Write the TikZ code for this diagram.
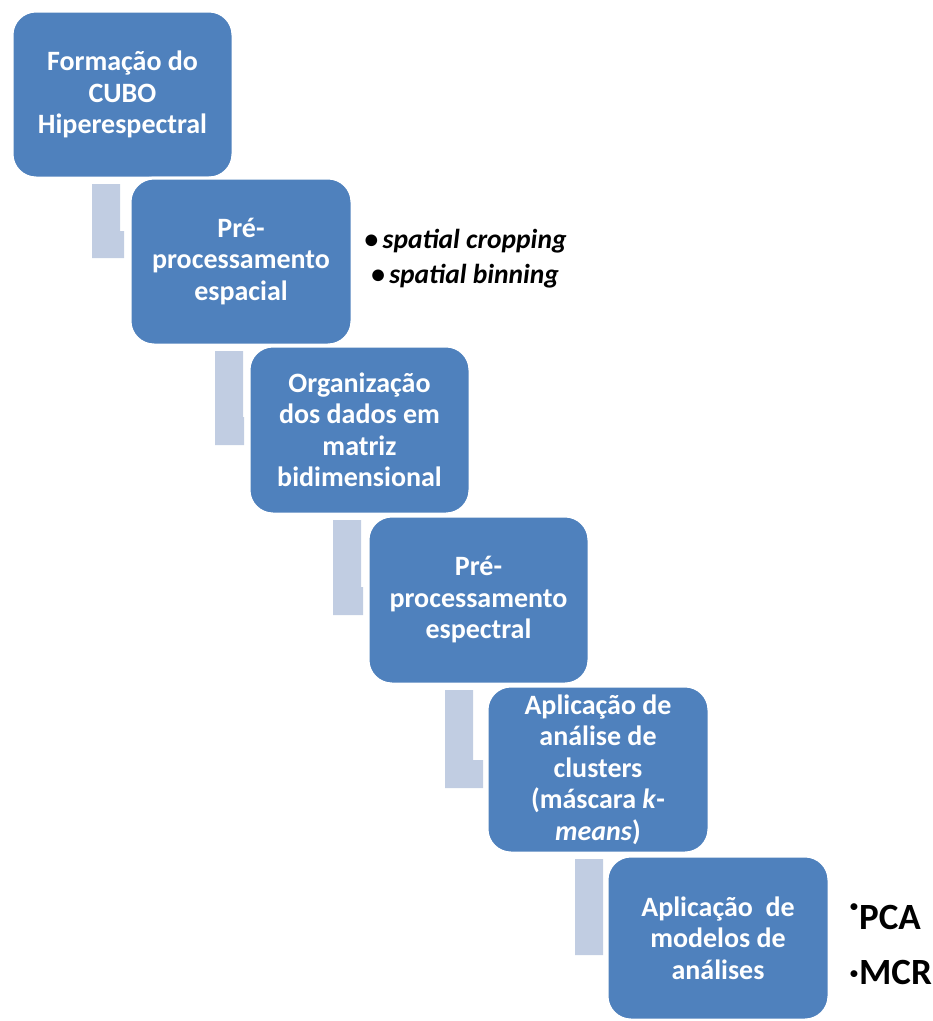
\documentclass[tikz,border=0pt]{standalone}
\usepackage{fontspec}
\setmainfont{Carlito}
\usetikzlibrary{calc}
\definecolor{boxblue}{HTML}{4F81BD}
\definecolor{connblue}{RGB}{193,205,226}
\pgfdeclarelayer{background}
\pgfsetlayers{background,main}
\newcommand\stepconn[6]{%
  \fill[connblue] let \p1=(#1.south west), \p2=(#2.north west) in
    (\x1+#3pt,\y1-6pt) -- (\x1+#3pt+28pt,\y1-6pt) -- (\x1+#3pt+28pt,\y2-#4pt+#5pt)
    -- (\x1+#3pt+#6pt,\y2-#4pt+#5pt) -- (\x1+#3pt+#6pt,\y2-#4pt) -- (\x1+#3pt,\y2-#4pt) -- cycle;}
\begin{document}
\begin{tikzpicture}[x=1pt,y=-1pt,
  stepbox/.style={draw=white, line width=3pt, fill=boxblue, rounded corners=24pt,
    outer sep=0pt, inner sep=0pt, align=center, text=white,
    font=\fontsize{28}{31.5}\selectfont\bfseries},
  bul/.style={anchor=base, inner sep=0pt, font=\fontsize{27.5}{33}\selectfont\bfseries\itshape},
  big/.style={anchor=base west, inner sep=0pt, font=\fontsize{37}{44}\selectfont\bfseries}]
\useasboundingbox (0,0) rectangle (933,1021);
\node[stepbox, minimum width=221pt, minimum height=167pt] (b1) at (122.5,94.5) {Formação do\\CUBO\\Hiperespectral};
\node[stepbox, minimum width=222pt, minimum height=167pt] (b2) at (241,261.5) {Pré-\\processamento\\espacial};
\node[stepbox, minimum width=221pt, minimum height=168pt] (b3) at (359.5,430) {Organização\\dos dados em\\matriz\\bidimensional};
\node[stepbox, minimum width=221pt, minimum height=168pt] (b4) at (478.5,600) {Pré-\\processamento\\espectral};
\node[stepbox, minimum width=222pt, minimum height=167pt] (b5) at (598,769.5) {Aplicação de\\análise de\\clusters\\(máscara \textit{k}-\\\textit{means})};
\node[stepbox, minimum width=222pt, minimum height=164pt] (b6) at (718,938) {Aplicação\ \ de\\modelos de\\análises};
\begin{pgfonlayer}{background}
\stepconn{b1}{b2}{80}{80}{27}{32}
\stepconn{b2}{b3}{85}{99}{28}{29}
\stepconn{b3}{b4}{84}{99}{28}{30}
\stepconn{b4}{b5}{77}{102}{28}{38}
\stepconn{b5}{b6}{88}{99}{28}{28}
\end{pgfonlayer}
\node[bul] (s1) at (465.5,248) {•\,\textit{spatial cropping}};
\node[bul] (s2) at (465,283) {•\,\textit{spatial binning}};
\node[big] (pca) at (849,929) {\raisebox{0.3em}{·}PCA};
\node[big] (mcr) at (849,984) {·MCR};
\end{tikzpicture}
\end{document}
